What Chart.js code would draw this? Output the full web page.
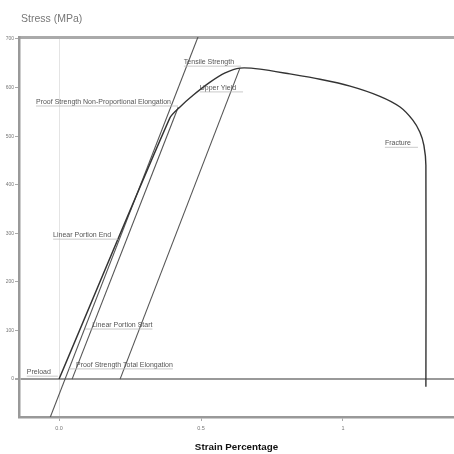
<!DOCTYPE html>
<html>
<head>
<meta charset="utf-8">
<script src="https://cdn.jsdelivr.net/npm/chart.js@4/dist/chart.umd.min.js"></script>
<style>
html, body { margin: 0; padding: 0; background: #fff; }
#wrap { width: 454px; height: 454px; }
</style>
</head>
<body>
<div id="wrap"><canvas id="stressChart"></canvas></div>
<script>
// measured curve (strain %, stress MPa)
const mainStrain = [0, 0.39, 0.426, 0.472, 0.532, 0.585, 0.637, 0.708, 0.813, 0.919, 1.025, 1.13, 1.201, 1.246, 1.271, 1.285, 1.292, 1.292]
const mainStress = [0, 537, 560, 584, 611, 630, 640, 638, 628, 617, 603, 582, 560, 533, 508, 481, 440, -16]

// offset / modulus lines
const lineAStrain = [-0.032, 0.49]
const lineAStress = [-80, 705]
const lineBStrain = [0.046, 0.42]
const lineBStress = [0, 560]
const lineCStrain = [0.215, 0.637]
const lineCStress = [0, 640]

const strainTicks = [0, 0.5, 1]
const strainTickLabels = ['0.0', '0.5', '1']
const stressTicks = [0, 100, 200, 300, 400, 500, 600, 700]

// notes on the curve
const noteText = ['Preload', 'Proof Strength Total Elongation', 'Linear Portion Start', 'Linear Portion End',
  'Proof Strength Non-Proportional Elongation', 'Tensile Strength', 'Upper Yield', 'Fracture']
const noteStrain = [-0.004, 0.035, 0.092, 0.208, 0.419, 0.641, 0.648, 1.264]
const noteStress = [6, 21, 103, 288, 562, 644, 591, 477]
const noteSide = ['left', 'right', 'right', 'left', 'left', 'left', 'left', 'left']

const pts = (xs, ys) => xs.map((x, i) => ({x: x, y: ys[i]}))

const notesPlugin = {
  id: 'notes',
  afterDatasetsDraw(chart) {
    const ctx = chart.ctx
    const xs = chart.scales.x, ys = chart.scales.y
    ctx.save()
    ctx.font = '7px "Liberation Sans", Arial, sans-serif'
    ctx.textBaseline = 'middle'
    noteText.forEach((t, i) => {
      const px = xs.getPixelForValue(noteStrain[i])
      const py = ys.getPixelForValue(noteStress[i])
      const w = ctx.measureText(t).width
      let x0, x1
      ctx.fillStyle = '#555'
      if (noteSide[i] === 'left') {
        ctx.textAlign = 'right'
        x1 = px; x0 = px - 7 - w
        ctx.fillText(t, px - 7, py - 4)
      } else {
        ctx.textAlign = 'left'
        x0 = px; x1 = px + 7 + w
        ctx.fillText(t, px + 7, py - 4)
      }
      ctx.strokeStyle = '#bbb'
      ctx.lineWidth = 0.8
      ctx.beginPath()
      ctx.moveTo(x0, py)
      ctx.lineTo(x1, py)
      ctx.stroke()
    })
    ctx.fillStyle = '#777'
    ctx.textAlign = 'left'
    ctx.font = '10.5px "Liberation Sans", Arial, sans-serif'
    ctx.fillText('Stress (MPa)', chart.chartArea.left + 2, 19)
    ctx.restore()
  }
}

const offsetLine = {borderColor: '#555', borderWidth: 1.1, pointRadius: 0, tension: 0}

new Chart(document.getElementById('stressChart'), {
  type: 'line',
  data: {
    datasets: [
      {data: pts(mainStrain, mainStress), borderColor: '#333', borderWidth: 1.4, pointRadius: 0, tension: 0.25},
      Object.assign({data: pts(lineAStrain, lineAStress)}, offsetLine),
      Object.assign({data: pts(lineBStrain, lineBStress)}, offsetLine),
      Object.assign({data: pts(lineCStrain, lineCStress)}, offsetLine)
    ]
  },
  options: {
    responsive: true,
    maintainAspectRatio: false,
    animation: false,
    layout: {padding: {top: 37, left: 0, right: 0, bottom: 0}},
    plugins: {legend: {display: false}, tooltip: {enabled: false}},
    scales: {
      x: {
        type: 'linear', min: -0.141, max: 1.391,
        afterBuildTicks: s => { s.ticks = strainTicks.map(v => ({value: v})) },
        afterFit: s => { s.height = 37 },
        ticks: {
          callback: v => strainTickLabels[strainTicks.indexOf(v)],
          font: {size: 5.5, family: 'Liberation Sans'}, color: '#777', padding: 4, maxRotation: 0
        },
        grid: {
          color: c => c.tick && c.tick.value === 0 ? '#e4e4e4' : 'transparent',
          tickColor: '#aaa', tickLength: 4
        },
        border: {color: '#999', width: 2.5},
        title: {display: true, text: 'Strain Percentage', color: '#111',
          font: {size: 9.8, weight: 'bold', family: 'Liberation Sans'}, padding: {top: 0, bottom: 1}}
      },
      xTop: {
        type: 'linear', position: 'top', min: -0.141, max: 1.391,
        afterFit: s => { s.height = 0 },
        ticks: {display: false},
        grid: {display: false},
        border: {color: '#aaa', width: 3}
      },
      y: {
        type: 'linear', min: -78, max: 704,
        afterBuildTicks: s => { s.ticks = stressTicks.map(v => ({value: v})) },
        afterFit: s => { s.width = 19 },
        ticks: {font: {size: 5, family: 'Liberation Sans'}, color: '#777', padding: 1},
        grid: {
          color: c => c.tick && c.tick.value === 0 ? '#999' : 'transparent',
          lineWidth: c => c.tick && c.tick.value === 0 ? 2 : 1,
          tickColor: '#aaa', tickLength: 4
        },
        border: {color: '#999', width: 2.5}
      }
    }
  },
  plugins: [notesPlugin]
})
</script>
</body>
</html>
